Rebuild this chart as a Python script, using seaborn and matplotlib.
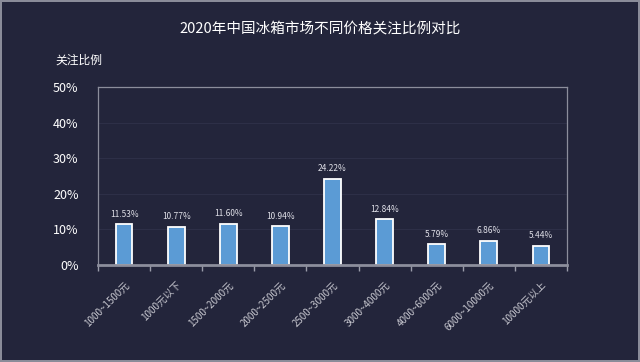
import numpy as np
import pandas as pd
import seaborn as sns
import matplotlib.pyplot as plt
from matplotlib.ticker import FixedLocator

categories = ['1000~1500元', '1000元以下', '1500~2000元', '2000~2500元', '2500~3000元',
              '3000~4000元', '4000~6000元', '6000~10000元', '10000元以上']
values = [11.53, 10.77, 11.60, 10.94, 24.22, 12.84, 5.79, 6.86, 5.44]
yticks = [0, 10, 20, 30, 40, 50]

bg = '#23253b'
sns.set_style('dark')
plt.rcParams['font.family'] = ['Noto Sans CJK SC', 'DejaVu Sans']

df = pd.DataFrame({'cat': categories, 'val': values})

fig = plt.figure(figsize=(6.4, 3.62), dpi=100, facecolor=bg, edgecolor='#8a8c99', linewidth=1.5)
ax = fig.add_axes([98/640, 1 - 265/362, 469/640, 178/362])
ax.set_facecolor(bg)

sns.barplot(data=df, x='cat', y='val', color='#5b9bd5', width=0.32, saturation=1,
            edgecolor='white', linewidth=1.3, ax=ax)

for i, v in enumerate(values):
    ax.text(i, v + 1.5, f'{v:.2f}%', ha='center', va='bottom', color='#e0e0e8', fontsize=6)

ax.set_ylim(0, 50)
ax.set_xlim(-0.5, len(categories) - 0.5)
ax.set_yticks(yticks)
ax.set_yticklabels([f'{t}%' for t in yticks], color='white', fontsize=9)
ax.set_xticks(range(len(categories)))
ax.set_xticklabels(categories, rotation=45, ha='right', rotation_mode='anchor',
                   color='#c8c8d0', fontsize=7)
ax.xaxis.set_minor_locator(FixedLocator(np.arange(-0.5, len(categories), 1)))
ax.tick_params(axis='x', which='major', bottom=False, pad=7)
ax.tick_params(axis='x', which='minor', bottom=True, length=4, color='#9a9caa',
               width=1, direction='out')
ax.tick_params(axis='y', length=0, pad=14)

ax.grid(axis='y', color='#2e3048', linewidth=0.7)
ax.set_axisbelow(True)
for side in ['left', 'top', 'right']:
    ax.spines[side].set_color('#8c8e9c')
    ax.spines[side].set_linewidth(0.9)
ax.spines['bottom'].set_color('#8c8e9c')
ax.spines['bottom'].set_linewidth(2)
ax.set_xlabel('')
ax.set_ylabel('')

fig.text(0.5, 1 - 28/362, '2020年中国冰箱市场不同价格关注比例对比', ha='center', va='center',
         color='white', fontsize=10.5)
fig.text(55/640, 1 - 60/362, '关注比例', ha='left', va='center', color='white', fontsize=8.5)

fig.savefig('out.png', dpi=100, facecolor=bg, edgecolor=fig.get_edgecolor())
